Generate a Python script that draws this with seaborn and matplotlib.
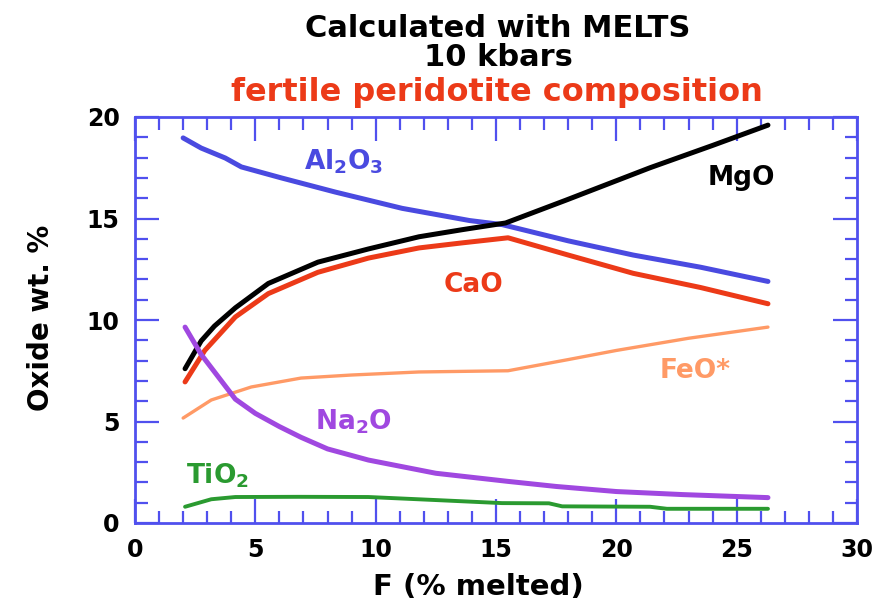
import matplotlib
matplotlib.use("Agg")
import matplotlib.pyplot as plt
import seaborn as sns
import numpy as np
import pandas as pd
from matplotlib.ticker import MultipleLocator

sns.set_style("white")
plt.rcParams['font.family'] = ['DejaVu Sans']
plt.rcParams['mathtext.fontset'] = 'custom'
plt.rcParams['mathtext.rm'] = 'DejaVu Sans:bold'
plt.rcParams['mathtext.it'] = 'DejaVu Sans:bold'
plt.rcParams['mathtext.bf'] = 'DejaVu Sans:bold'

# Data (F in % melted, oxide wt. %)
al2o3_x = [2.0, 2.75, 3.75, 4.42, 6.08, 8.33, 11.1, 13.9, 15.25, 18.0, 20.7, 23.5, 26.3]
al2o3_y = [18.97, 18.47, 17.98, 17.54, 17.0, 16.3, 15.5, 14.9, 14.7, 13.9, 13.2, 12.6, 11.9]

mgo_x = [2.08, 2.75, 3.3, 4.17, 5.54, 7.6, 9.7, 11.8, 13.6, 15.4, 17.9, 21.4, 24.0, 26.3]
mgo_y = [7.6, 8.97, 9.7, 10.6, 11.8, 12.85, 13.5, 14.1, 14.45, 14.78, 15.9, 17.5, 18.6, 19.6]

cao_x = [2.08, 2.9, 4.17, 5.54, 7.6, 9.7, 11.8, 13.6, 15.5, 18.0, 20.7, 23.5, 26.3]
cao_y = [6.95, 8.5, 10.15, 11.3, 12.35, 13.05, 13.55, 13.8, 14.05, 13.2, 12.3, 11.6, 10.8]

feo_x = [2.0, 3.17, 4.83, 6.9, 9.0, 11.8, 15.5, 18.0, 20.0, 23.0, 26.3]
feo_y = [5.17, 6.06, 6.7, 7.14, 7.29, 7.44, 7.5, 8.05, 8.5, 9.1, 9.65]

na2o_x = [2.08, 2.75, 3.46, 4.17, 5.0, 6.0, 6.9, 8.0, 9.7, 12.5, 15.5, 17.5, 20.0, 22.75, 26.3]
na2o_y = [9.65, 8.3, 7.2, 6.1, 5.4, 4.75, 4.22, 3.65, 3.1, 2.45, 2.05, 1.8, 1.55, 1.4, 1.25]

tio2_x = [2.08, 3.17, 4.17, 6.8, 9.7, 12.5, 15.25, 17.2, 17.75, 21.4, 22.1, 26.3]
tio2_y = [0.8, 1.17, 1.28, 1.29, 1.28, 1.13, 0.98, 0.97, 0.82, 0.8, 0.7, 0.7]

series = [
    ("Al2O3", al2o3_x, al2o3_y, "#4a4ae0", 3.6),
    ("MgO", mgo_x, mgo_y, "#000000", 3.6),
    ("CaO", cao_x, cao_y, "#ec3a18", 3.6),
    ("FeO*", feo_x, feo_y, "#ff9a66", 2.4),
    ("Na2O", na2o_x, na2o_y, "#a048e0", 3.6),
    ("TiO2", tio2_x, tio2_y, "#2a9a30", 2.8),
]

fig = plt.figure(figsize=(8.8, 6.04), dpi=100)
ax = fig.add_axes([135/880, 81/604, 722/880, 406/604])

for name, xs, ys, col, lw in series:
    df = pd.DataFrame({"x": xs, "y": ys})
    sns.lineplot(data=df, x="x", y="y", ax=ax, color=col, linewidth=lw,
                 sort=False, estimator=None)

ax.set_xlim(0, 30)
ax.set_ylim(0, 20)
ax.xaxis.set_major_locator(MultipleLocator(5))
ax.xaxis.set_minor_locator(MultipleLocator(1))
ax.yaxis.set_major_locator(MultipleLocator(5))
ax.yaxis.set_minor_locator(MultipleLocator(1))

frame_col = "#5050ee"
for sp in ax.spines.values():
    sp.set_color(frame_col)
    sp.set_linewidth(2.0)

ax.tick_params(which="both", direction="in", top=True, right=True,
               bottom=True, left=True, color=frame_col, width=1.6,
               labelcolor="black")
ax.tick_params(which="major", length=17, labelsize=17, pad=11)
ax.tick_params(which="minor", length=9)
for lab in ax.get_xticklabels() + ax.get_yticklabels():
    lab.set_fontweight("bold")

ax.set_xlabel("F (% melted)", fontsize=21, fontweight="bold", color="black")
ax.set_ylabel("Oxide wt. %", fontsize=20, fontweight="bold", color="black")
ax.xaxis.set_label_coords(0.476, -0.122)
ax.yaxis.set_label_coords(-0.111, 0.505)

H = 604
fs = 19
labels = [
    (r"Al$_2$O$_3$", 344, 170, "#4a4ae0"),
    ("MgO", 741, 185, "#000000"),
    ("CaO", 473, 292, "#ec3a18"),
    ("FeO*", 695, 378, "#ff9a66"),
    (r"Na$_2$O", 353, 430, "#a048e0"),
    (r"TiO$_2$", 217, 483, "#2a9a30"),
]
for txt, px, py, col in labels:
    fig.text(px/880, 1-py/H, txt, fontsize=fs, fontweight="bold", color=col,
             ha="center", va="baseline")

tfs = 22
fig.text(498/880, 1-37/H, "Calculated with MELTS", fontsize=tfs, fontweight="bold",
         ha="center", va="baseline", color="black")
fig.text(498/880, 1-66/H, "10 kbars", fontsize=tfs, fontweight="bold",
         ha="center", va="baseline", color="black")
fig.text(497/880, 1-101/H, "fertile peridotite composition", fontsize=23,
         fontweight="bold", ha="center", va="baseline", color="#ec3a18")

fig.savefig("out.png", dpi=100)
